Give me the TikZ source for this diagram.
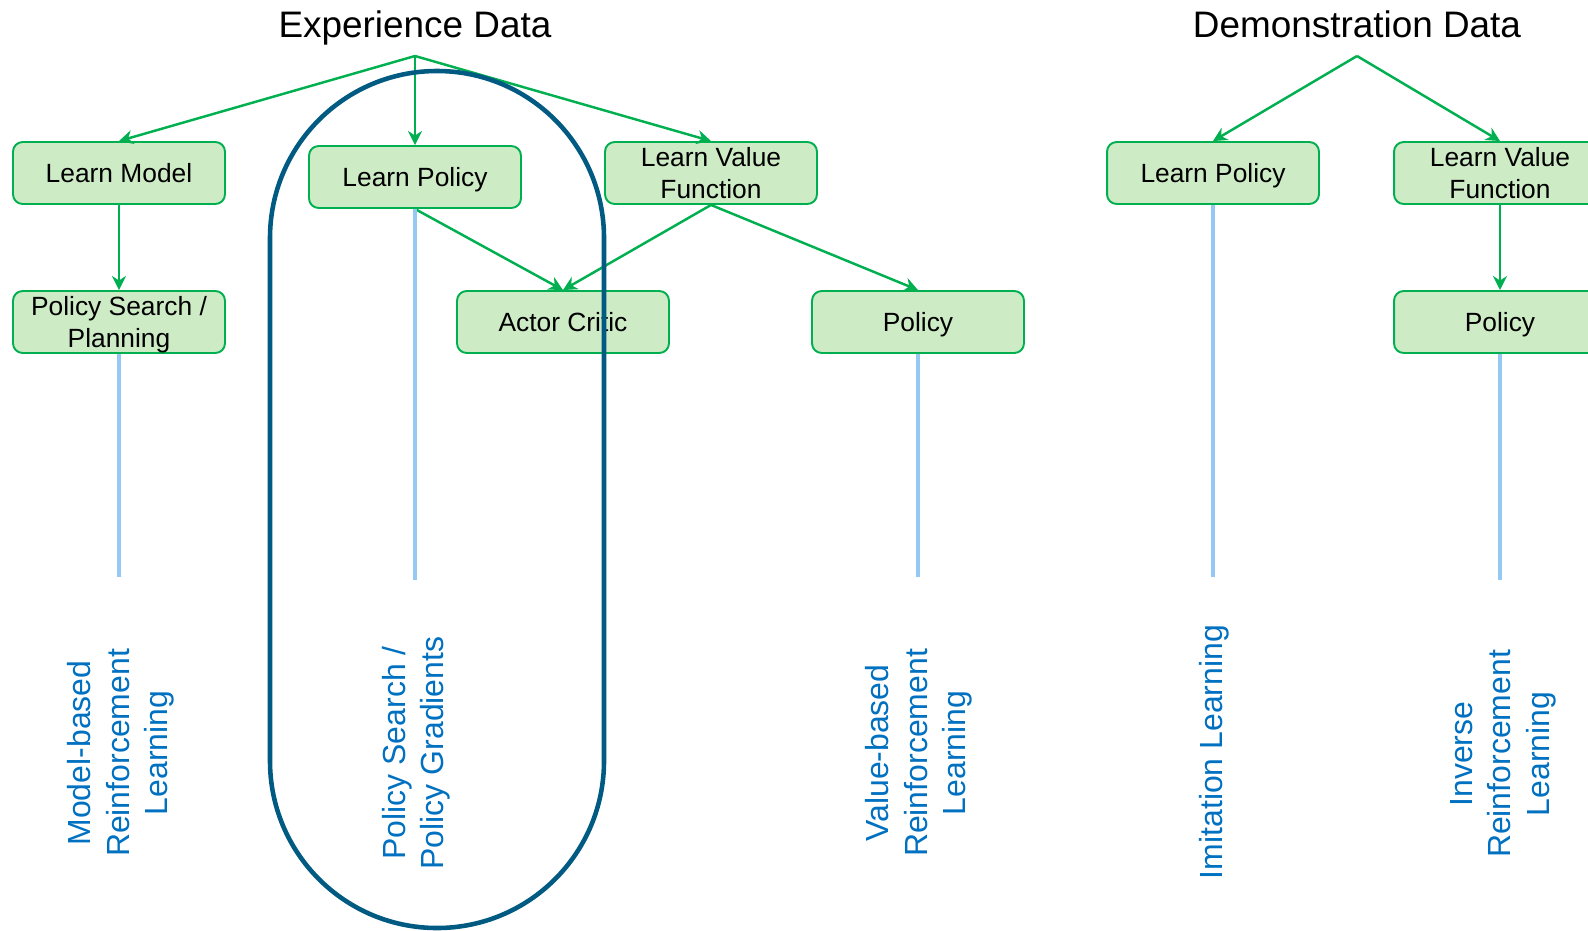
\documentclass[tikz,border=0pt]{standalone}
\usepackage{fontspec}
\setmainfont{Liberation Sans}
\usetikzlibrary{arrows.meta,positioning}

\definecolor{boxfill}{RGB}{205,235,197}
\definecolor{edgegreen}{RGB}{0,176,80}
\definecolor{labelblue}{RGB}{0,112,192}
\definecolor{stemblue}{RGB}{150,200,245}
\definecolor{ovalblue}{RGB}{0,90,130}

\tikzset{
  greenbox/.style={draw=edgegreen, fill=boxfill, line width=1.1pt, rounded corners=5.5pt,
    minimum width=4.24cm, minimum height=1.24cm, inner sep=2pt, align=center,
    text depth=0pt, font=\fontsize{15}{18}\selectfont},
  flow/.style={-{Stealth[length=8pt,width=8pt]}, edgegreen, line width=1.4pt},
  stem/.style={stemblue, line width=2pt},
  method/.style={rotate=90, align=center, text=labelblue, font=\fontsize{18.2}{21.8}\selectfont},
  heading/.style={text depth=0pt, font=\fontsize{21}{25}\selectfont},
  oval/.style={ovalblue, line width=2.6pt, rounded corners=3.34cm}
}

\begin{document}
\begin{tikzpicture}[x=0.02cm,y=-0.02cm]
\useasboundingbox (0,0) rectangle (1588,930);
\clip (0,0) rectangle (1588,930);

% experience data
\node[heading] (expdata) at (415,24) {Experience Data};
\coordinate (exptip) at (415,56);
\node[greenbox] (lmodel) at (119,173) {Learn Model};
\node[greenbox] (lpolicy) at (415,177) {Learn Policy};
\node[greenbox] (lvalue) at (711,173) {Learn Value\\Function};
\node[greenbox] (psearch) at (119,322) {Policy Search /\\Planning};
\node[greenbox] (actor) at (563,322) {Actor Critic};
\node[greenbox] (policy) at (918,322) {Policy};

\draw[flow] (exptip) -- (lmodel.north);
\draw[flow] (exptip) -- (lpolicy.north);
\draw[flow] (exptip) -- (lvalue.north);
\draw[flow] (lmodel) -- (psearch);
\draw[flow] (lpolicy.south) -- (actor.north);
\draw[flow] (lvalue.south) -- (actor.north);
\draw[flow] (lvalue.south) -- (policy.north);

% demonstration data
\node[heading] (demodata) at (1357,24) {Demonstration Data};
\coordinate (demotip) at (1357,56);
\node[greenbox] (dlpolicy) at (1213,173) {Learn Policy};
\node[greenbox] (dlvalue) at (1500,173) {Learn Value\\Function};
\node[greenbox] (dpolicy) at (1500,322) {Policy};

\draw[flow] (demotip) -- (dlpolicy.north);
\draw[flow] (demotip) -- (dlvalue.north);
\draw[flow] (dlvalue) -- (dpolicy);

% stems down to the method names
\coordinate (mbend) at (119,577);
\coordinate (pgend) at (415,580);
\coordinate (vbend) at (918,577);
\coordinate (imend) at (1213,577);
\coordinate (irend) at (1500,580);
\draw[stem] (psearch.south) -- (mbend);
\draw[stem] (lpolicy.south) -- (pgend);
\draw[stem] (policy.south) -- (vbend);
\draw[stem] (dlpolicy.south) -- (imend);
\draw[stem] (dpolicy.south) -- (irend);

\node[method] (mbrl) at (121,753) {Model-based\\Reinforcement\\Learning};
\node[method] (pgrad) at (416,753) {Policy Search /\\Policy Gradients};
\node[method] (vbrl) at (919,753) {Value-based\\Reinforcement\\Learning};
\node[method] (imit) at (1214,752) {Imitation Learning};
\node[method] (irl) at (1503,754) {Inverse\\Reinforcement\\Learning};

% policy search group
\draw[oval] (270,71) rectangle (604,928);
\end{tikzpicture}
\end{document}
